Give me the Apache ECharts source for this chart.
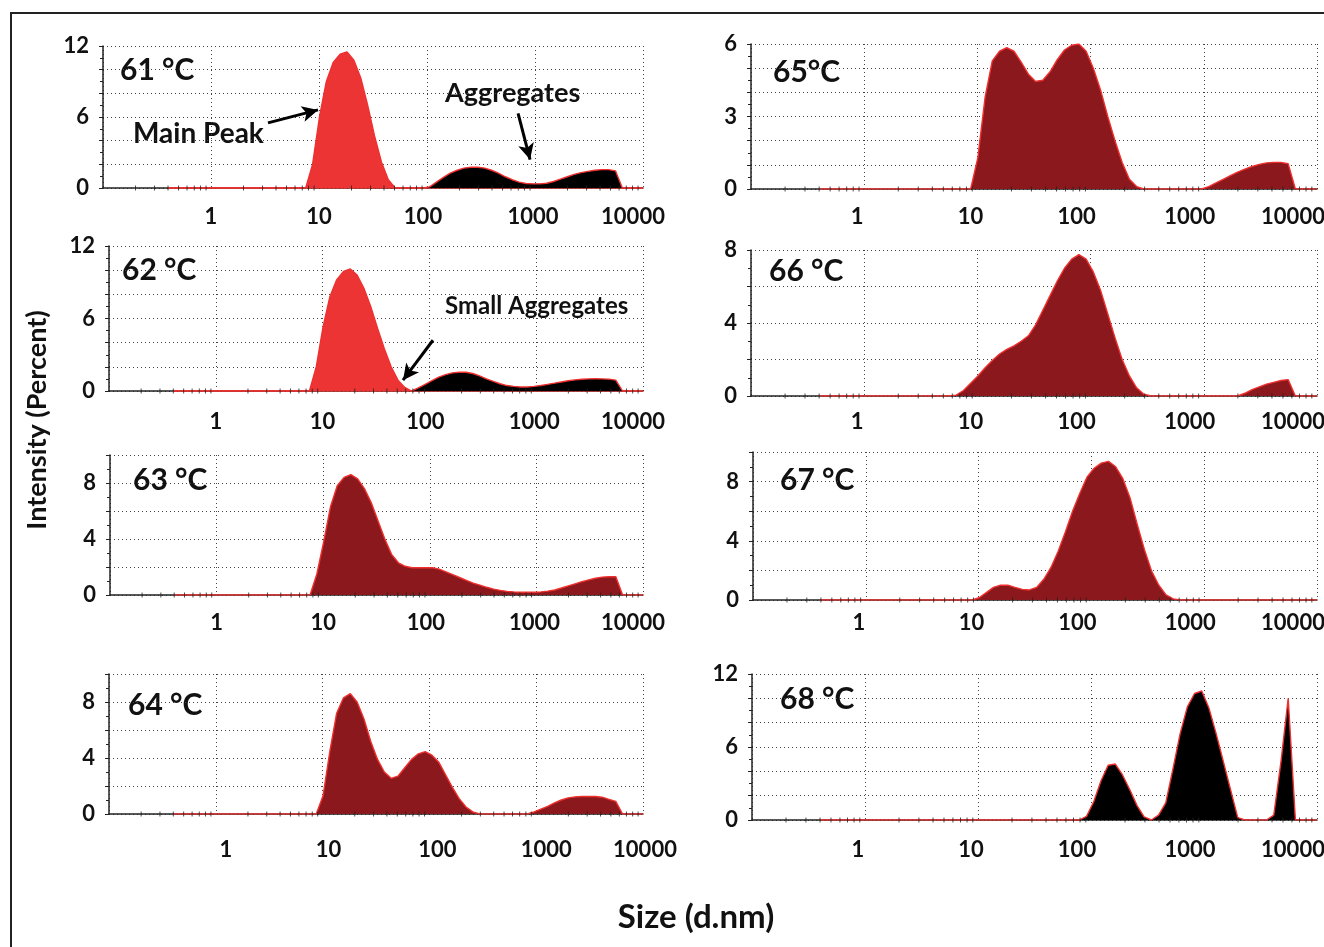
<!DOCTYPE html>
<html>
<head>
<meta charset="utf-8">
<script src="https://cdn.jsdelivr.net/npm/echarts@6/dist/echarts.min.js"></script>
<style>
html,body{margin:0;padding:0;background:#fff;overflow:hidden;}
#chart{width:1324px;height:947px;}
</style>
</head>
<body>
<div id="chart"></div>
<script>
// ---------------- DATA ----------------
// DLS size bins (d.nm)
const sizes = [0.4, 0.4632, 0.5365, 0.6213, 0.7195, 0.8332, 0.9649, 1.117, 1.294, 1.499,
  1.736, 2.01, 2.328, 2.696, 3.122, 3.615, 4.187, 4.849, 5.615, 6.503,
  7.531, 8.721, 10.1, 11.7, 13.54, 15.69, 18.17, 21.04, 24.36, 28.21,
  32.67, 37.84, 43.82, 50.75, 58.77, 68.06, 78.82, 91.28, 105.7, 122.4,
  141.8, 164.2, 190.1, 220.2, 255, 295.3, 342, 396.1, 458.7, 531.2,
  615.1, 712.4, 825, 955.4, 1106, 1281, 1484, 1718, 1990, 2305,
  2669, 3091, 3580, 4145, 4801, 5560, 6439, 7456, 8635, 10000];

// Intensity (%) per bin — first 20 bins (0.4–6.5 nm) on their own line
const int61Main = [0,0,0,0,0,0,0,0,0,0, 0,0,0,0,0,0,0,0,0,0,
  0, 2.0, 6.0, 9.0, 10.6, 11.3, 11.5, 10.8, 9.3, 7.0,
  4.4, 2.2, 0.7, 0, 0, 0, 0, 0, 0, 0,
  0, 0, 0, 0, 0, 0, 0, 0, 0, 0,
  0, 0, 0, 0, 0, 0, 0, 0, 0, 0,
  0, 0, 0, 0, 0, 0, 0, 0, 0, 0];
const int61Agg = [0,0,0,0,0,0,0,0,0,0, 0,0,0,0,0,0,0,0,0,0,
  0, 0, 0, 0, 0, 0, 0, 0, 0, 0,
  0, 0, 0, 0, 0, 0, 0, 0, 0.1, 0.5,
  0.9, 1.25, 1.5, 1.68, 1.75, 1.75, 1.68, 1.5, 1.25, 0.95,
  0.7, 0.5, 0.38, 0.35, 0.35, 0.4, 0.55, 0.75, 0.95, 1.15,
  1.3, 1.4, 1.5, 1.55, 1.55, 1.45, 0, 0, 0, 0];
const int62Main = [0,0,0,0,0,0,0,0,0,0, 0,0,0,0,0,0,0,0,0,0,
  0, 2.0, 5.3, 7.8, 9.2, 9.9, 10.1, 9.6, 8.5, 7.0,
  5.2, 3.5, 2.0, 0.9, 0.3, 0, 0, 0, 0, 0,
  0, 0, 0, 0, 0, 0, 0, 0, 0, 0,
  0, 0, 0, 0, 0, 0, 0, 0, 0, 0,
  0, 0, 0, 0, 0, 0, 0, 0, 0, 0];
const int62Agg = [0,0,0,0,0,0,0,0,0,0, 0,0,0,0,0,0,0,0,0,0,
  0, 0, 0, 0, 0, 0, 0, 0, 0, 0,
  0, 0, 0, 0, 0, 0, 0.25, 0.55, 0.85, 1.15,
  1.35, 1.5, 1.55, 1.55, 1.45, 1.25, 1.0, 0.8, 0.6, 0.45,
  0.38, 0.33, 0.33, 0.38, 0.45, 0.55, 0.65, 0.75, 0.85, 0.92,
  0.97, 1.0, 1.02, 1.0, 0.98, 0.9, 0, 0, 0, 0];
const int63 = [0,0,0,0,0,0,0,0,0,0, 0,0,0,0,0,0,0,0,0,0,
  0, 1.5, 3.8, 6.3, 7.8, 8.4, 8.6, 8.3, 7.6, 6.6,
  5.3, 4.0, 2.9, 2.3, 2.05, 1.95, 1.95, 1.95, 1.95, 1.85,
  1.65, 1.45, 1.25, 1.05, 0.85, 0.7, 0.55, 0.42, 0.33, 0.26,
  0.22, 0.2, 0.2, 0.2, 0.22, 0.28, 0.36, 0.5, 0.65, 0.8,
  0.95, 1.08, 1.2, 1.28, 1.3, 1.3, 0, 0, 0, 0];
const int64 = [0,0,0,0,0,0,0,0,0,0, 0,0,0,0,0,0,0,0,0,0,
  0, 0, 1.3, 4.5, 7.2, 8.3, 8.6, 8.0, 6.8, 5.2,
  3.9, 3.0, 2.55, 2.7, 3.3, 3.9, 4.3, 4.45, 4.2, 3.7,
  2.8, 1.9, 1.1, 0.5, 0.15, 0, 0, 0, 0, 0,
  0, 0, 0, 0.15, 0.35, 0.55, 0.8, 1.0, 1.15, 1.22,
  1.25, 1.25, 1.25, 1.2, 1.05, 0.9, 0, 0, 0, 0];
const int65 = [0,0,0,0,0,0,0,0,0,0, 0,0,0,0,0,0,0,0,0,0,
  0, 0, 1.3, 3.8, 5.3, 5.7, 5.85, 5.7, 5.25, 4.75,
  4.45, 4.5, 4.85, 5.35, 5.75, 5.95, 6.0, 5.7, 5.0, 4.1,
  3.0, 2.0, 1.1, 0.4, 0.1, 0, 0, 0, 0, 0,
  0, 0, 0, 0, 0.1, 0.25, 0.4, 0.55, 0.7, 0.82,
  0.93, 1.02, 1.08, 1.1, 1.1, 1.05, 0, 0, 0, 0];
const int66 = [0,0,0,0,0,0,0,0,0,0, 0,0,0,0,0,0,0,0,0,0.05,
  0.3, 0.7, 1.1, 1.55, 1.95, 2.3, 2.55, 2.75, 3.0, 3.3,
  3.9, 4.7, 5.5, 6.3, 7.0, 7.5, 7.75, 7.5, 6.8, 5.8,
  4.5, 3.2, 2.0, 1.1, 0.45, 0.1, 0, 0, 0, 0,
  0, 0, 0, 0, 0, 0, 0, 0, 0, 0.15,
  0.35, 0.5, 0.65, 0.75, 0.85, 0.9, 0, 0, 0, 0];
const int67 = [0,0,0,0,0,0,0,0,0,0, 0,0,0,0,0,0,0,0,0,0,
  0, 0, 0.15, 0.5, 0.85, 1.0, 1.0, 0.85, 0.72, 0.68,
  0.85, 1.4, 2.2, 3.3, 4.6, 6.0, 7.2, 8.3, 8.9, 9.25,
  9.37, 9.0, 8.2, 6.9, 5.1, 3.4, 1.95, 1.0, 0.35, 0.08,
  0, 0, 0, 0, 0, 0, 0, 0, 0, 0,
  0, 0, 0, 0, 0, 0, 0, 0, 0, 0];
const int68 = [0,0,0,0,0,0,0,0,0,0, 0,0,0,0,0,0,0,0,0,0,
  0, 0, 0, 0, 0, 0, 0, 0, 0, 0,
  0, 0, 0, 0, 0, 0, 0, 0.3, 1.5, 3.2,
  4.5, 4.6, 3.7, 2.5, 1.2, 0.25, 0, 0.4, 1.4, 4.2,
  7.1, 9.3, 10.4, 10.6, 9.2, 7.1, 4.8, 2.5, 0.2, 0,
  0, 0, 0, 0.4, 4.8, 10.0, 0, 0, 0, 0];

// log-axis minor tick positions (2..9 per decade)
const minorTickSizes = [0.2,0.3,0.4,0.5,0.6,0.7,0.8,0.9, 2,3,4,5,6,7,8,9,
  20,30,40,50,60,70,80,90, 200,300,400,500,600,700,800,900,
  2000,3000,4000,5000,6000,7000,8000,9000];
const xTickLabels = ['1','10','100','1000','10000'];
const temperatures = ['61 °C','62 °C','63 °C','64 °C','65°C','66 °C','67 °C','68 °C'];
const yMaxes = [12, 12, 10, 10, 6, 8, 10, 12];
const yGridSteps = [2, 2, 2, 2, 1, 2, 2, 2];
const yLabelSteps = [6, 6, 4, 4, 3, 4, 4, 6];

// ---------------- STYLE / LAYOUT ----------------
const FONT = 'Lato, "Open Sans", sans-serif';
const RED_FILL = '#EC3434';
const DARK_FILL = '#8B181C';
const BLACK_FILL = '#000000';
const OUTLINE = '#F0302E';

// per-panel plot rectangles and horizontal nudges of the x tick labels (px)
const LEFT_SHIFT = [0, 0, -4, -2, -10];
const grids = [
  {left:103, top:46,  width:540, height:142, lblGap:18, shifts:LEFT_SHIFT},
  {left:109, top:246, width:534, height:145, lblGap:20, shifts:LEFT_SHIFT},
  {left:110, top:455, width:533, height:140, lblGap:17, shifts:LEFT_SHIFT},
  {left:109, top:674, width:534, height:140, lblGap:25, shifts:[10, 6, 8, 10, 2]},
  {left:751, top:44,  width:566, height:145, lblGap:17, shifts:[-7, -7, -14, -14, -24]},
  {left:751, top:250, width:566, height:146, lblGap:15, shifts:[-7, -7, -14, -14, -24]},
  {left:753, top:452, width:564, height:148, lblGap:12, shifts:[-7, -7, -14, -14, -24]},
  {left:752, top:674, width:565, height:146, lblGap:19, shifts:[-7, -7, -14, -14, -24]}
];
const tempPos = [[120,73],[122,273],[133,483],[128,708],[773,75],[769,274],[780,483],[780,702]];

const panelSeries = [
  [{v:int61Main, c:RED_FILL}, {v:int61Agg, c:BLACK_FILL}],
  [{v:int62Main, c:RED_FILL}, {v:int62Agg, c:BLACK_FILL}],
  [{v:int63, c:DARK_FILL}],
  [{v:int64, c:DARK_FILL}],
  [{v:int65, c:DARK_FILL}],
  [{v:int66, c:DARK_FILL}],
  [{v:int67, c:DARK_FILL}],
  [{v:int68, c:BLACK_FILL}]
];

const option = {
  animation: false,
  backgroundColor: '#ffffff',
  grid: [], xAxis: [], yAxis: [], series: [],
  graphic: []
};

const dotted = {color:'#444', width:1, type:[1,3]};
const labelFont = {color:'#111', fontFamily:FONT, fontWeight:'bold', fontSize:22};

grids.forEach((g, i) => {
  option.grid.push({left:g.left, top:g.top, width:g.width, height:g.height,
    containLabel:false, outerBoundsMode:'none'});
  const rich = {};
  g.shifts.forEach((s, k) => {
    rich['t' + k] = Object.assign({}, labelFont, {
      padding: s >= 0 ? [0, 0, 0, 2 * s] : [0, -2 * s, 0, 0]
    });
  });
  option.xAxis.push({
    gridIndex:i, type:'log', logBase:10, min:0.1, max:10000,
    axisLine:{show:true, onZero:false, lineStyle:{color:'#222', width:1.5}},
    axisTick:{show:false},
    splitLine:{show:true, lineStyle:dotted},
    axisLabel:Object.assign({}, labelFont, {
      show:true, margin:g.lblGap, showMinLabel:true, showMaxLabel:true, hideOverlap:false,
      rich: rich,
      formatter: v => {
        if (v < 1) return '';
        const s = String(Math.round(v));
        const k = xTickLabels.indexOf(s);
        return k >= 0 ? '{t' + k + '|' + s + '}' : '';
      }
    })
  });
  option.yAxis.push({
    gridIndex:i, type:'value', min:0, max:yMaxes[i], interval:yGridSteps[i],
    axisLine:{show:true, lineStyle:{color:'#222', width:1.5}},
    axisTick:{show:true, length:4, lineStyle:{color:'#222'}},
    minorTick:{show:true, splitNumber:2, length:3, lineStyle:{color:'#222'}},
    splitLine:{show:true, lineStyle:dotted},
    axisLabel:Object.assign({}, labelFont, {
      margin:14,
      formatter: v => (v % yLabelSteps[i] === 0 ? String(v) : '')
    })
  });
  panelSeries[i].forEach((s, k) => {
    option.series.push({
      type:'line', xAxisIndex:i, yAxisIndex:i, silent:true,
      data: sizes.map((x, j) => [x, s.v[j]]),
      showSymbol:false, symbol:'none', smooth:false,
      lineStyle:{color:OUTLINE, width:1.4},
      areaStyle:{color:s.c, opacity:1},
      z: 3 + k
    });
  });
  option.series.push({
    type:'scatter', xAxisIndex:i, yAxisIndex:i, silent:true,
    data: minorTickSizes.map(x => [x, 0]),
    symbol:'rect', symbolSize:[1,5], itemStyle:{color:'#222'}, z:6
  });
  const p = tempPos[i];
  option.graphic.push({
    type:'text', left:p[0], top:p[1]-18, silent:true,
    style:{text:temperatures[i], font:'bold 30px ' + FONT, fill:'#111'}
  });
});

// arrows (data coords)
const arrowStyle = {symbol:['none','arrow'], symbolSize:[12,16], silent:true,
  label:{show:false}, lineStyle:{color:'#000', width:3, type:'solid'}};
option.series[0].markLine = Object.assign({}, arrowStyle, {data:[
  [{coord:[3.37,5.5]},{coord:[9.8,6.6]}]
]});
option.series[1].markLine = Object.assign({}, arrowStyle, {data:[
  [{coord:[697,6.3]},{coord:[900,2.4]}]
]});
option.series[4].markLine = Object.assign({}, arrowStyle, {data:[
  [{coord:[108,4.2]},{coord:[56.6,0.9]}]
]});

// annotation texts, axis titles, frame
option.graphic.push(
  {type:'text', left:133, top:120, silent:true, style:{text:'Main Peak', font:'bold 28px ' + FONT, fill:'#111'}},
  {type:'text', left:445, top:80, silent:true, style:{text:'Aggregates', font:'bold 27px ' + FONT, fill:'#111'}},
  {type:'text', left:445, top:294, silent:true, style:{text:'Small Aggregates', font:'bold 24px ' + FONT, fill:'#111'}},
  {type:'text', x:37, y:420, rotation:Math.PI/2, silent:true,
    style:{text:'Intensity (Percent)', font:'bold 27px ' + FONT, fill:'#111', align:'center', verticalAlign:'middle'}},
  {type:'text', x:696, y:917, silent:true,
    style:{text:'Size (d.nm)', font:'bold 33px ' + FONT, fill:'#111', align:'center', verticalAlign:'middle'}},
  {type:'polyline', silent:true, shape:{points:[[11,947],[11,13],[1324,13]]},
    style:{stroke:'#222', lineWidth:2, fill:null}}
);

const chart = echarts.init(document.getElementById('chart'), null, {renderer:'canvas'});
chart.setOption(option);
</script>
</body>
</html>
